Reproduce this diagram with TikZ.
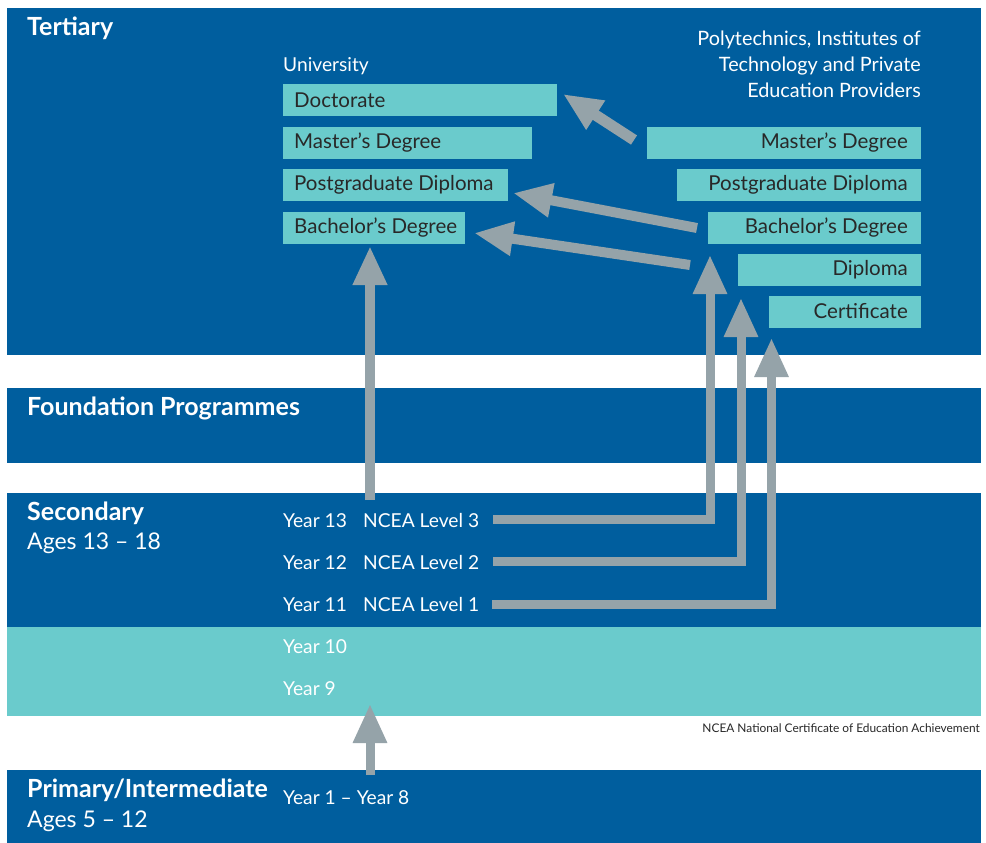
\documentclass[tikz,border=0pt]{standalone}
\usepackage{fontspec}
\setmainfont{Lato}
\usetikzlibrary{arrows.meta}
\definecolor{dblue}{RGB}{0,94,158}
\definecolor{lteal}{RGB}{106,203,204}
\definecolor{garr}{RGB}{149,163,169}
\definecolor{txt}{RGB}{40,40,40}
\newcommand{\lbox}[2]{\makebox[#1][l]{#2}}
\newcommand{\rbox}[2]{\makebox[#1][r]{#2}}
\begin{document}
\begin{tikzpicture}[x=1pt,y=-1pt,
  band/.style={fill=#1, draw=none, anchor=north west, inner sep=0pt},
  ubox/.style={fill=lteal, anchor=west, minimum height=32pt, inner xsep=11pt, inner ysep=0pt, text=txt, font=\fontsize{20.5}{21}\selectfont},
  pbox/.style={fill=lteal, anchor=east, minimum height=32pt, inner xsep=13pt, inner ysep=0pt, text=txt, font=\fontsize{20.5}{21}\selectfont},
  head/.style={anchor=west, text=white, inner sep=0pt, font=\fontsize{25}{26}\selectfont\bfseries},
  sub/.style={anchor=west, text=white, inner sep=0pt, font=\fontsize{23}{24}\selectfont},
  lbl/.style={anchor=west, text=white, inner sep=0pt, font=\fontsize{19.2}{20}\selectfont},
  garrow/.style={draw=garr, line width=#1, line cap=butt, line join=miter, -{Triangle[length=39pt,width=32pt]}},
]
\useasboundingbox (0,0) rectangle (986,843);
\fill[white] (0,0) rectangle (986,843);
% bands
\node[band=dblue, minimum width=974pt, minimum height=347pt] (tert) at (7,8) {};
\node[band=dblue, minimum width=974pt, minimum height=75pt] (found) at (7,388) {};
\node[band=dblue, minimum width=974pt, minimum height=135pt] (sec) at (7,493) {};
\node[band=lteal, minimum width=974pt, minimum height=89pt] (junior) at (7,627) {};
\node[band=dblue, minimum width=974pt, minimum height=73pt] (prim) at (7,770) {};
% headings
\node[head] (hT) at (27,28) {Tertiary};
\node[head] (hF) at (27,408) {Foundation Programmes};
\node[head] (hS) at (27,513) {Secondary};
\node[sub] (aS) at (27,543) {Ages 13 – 18};
\node[head] (hP) at (27,790) {Primary/Intermediate};
\node[sub] (aP) at (27,821) {Ages 5 – 12};
% university
\node[lbl] (uni) at (283,66) {University};
\node[ubox] (udoc) at (283,100) {\lbox{252pt}{Doctorate}};
\node[ubox] (umas) at (283,142.5) {\lbox{227pt}{Master’s Degree}};
\node[ubox] (upg) at (283,185) {\lbox{203pt}{Postgraduate Diploma}};
\node[ubox] (ubach) at (283,227.5) {\lbox{160pt}{Bachelor’s Degree}};
% polytechnics
\node[text=white, anchor=north east, inner sep=0pt, align=right, font=\fontsize{19.8}{26}\selectfont] (poly) at (921,31) {Polytechnics, Institutes of\\Technology and Private\\Education Providers};
\node[pbox] (pmas) at (921,142.5) {\rbox{248pt}{Master’s Degree}};
\node[pbox] (ppg) at (921,185) {\rbox{218pt}{Postgraduate Diploma}};
\node[pbox] (pbach) at (921,227.5) {\rbox{187pt}{Bachelor’s Degree}};
\node[pbox] (pdip) at (921,270) {\rbox{157pt}{Diploma}};
\node[pbox] (pcert) at (921,311.5) {\rbox{126pt}{Certificate}};
% secondary
\node[lbl] (y13) at (283,521) {Year 13};
\node[lbl] (n3) at (363,521) {NCEA Level 3};
\node[lbl] (y12) at (283,563) {Year 12};
\node[lbl] (n2) at (363,563) {NCEA Level 2};
\node[lbl] (y11) at (283,605) {Year 11};
\node[lbl] (n1) at (363,605) {NCEA Level 1};
\node[lbl] (y10) at (283,647) {Year 10};
\node[lbl] (y9) at (283,689) {Year 9};
\node[lbl] (y18) at (283,798) {Year 1 – Year 8};
\node[anchor=east, inner sep=0pt, text=txt, font=\fontsize{11.9}{13}\selectfont] (note) at (980,728) {NCEA National Certificate of Education Achievement};
% arrow coordinates
\coordinate (a1s) at (634,140);
\coordinate (a1e) at (563,94);
\coordinate (a2s) at (697,228);
\coordinate (a2e) at (513,193);
\coordinate (a3s) at (690,265);
\coordinate (a3e) at (474,233);
\coordinate (a4s) at (370,500);
\coordinate (a4e) at (370,246);
\coordinate (e3s) at (493,519);
\coordinate (e3e) at (710,255);
\coordinate (e2s) at (493,561);
\coordinate (e2e) at (741,298);
\coordinate (e1s) at (492,604.5);
\coordinate (e1e) at (771.5,338);
\coordinate (b1s) at (370,775);
\coordinate (b1e) at (370,704);
% arrows
\draw[garrow=11pt] (a1s) -- (a1e);
\draw[garrow=10pt] (a2s) -- (a2e);
\draw[garrow=10pt] (a3s) -- (a3e);
\draw[garrow=10pt] (a4s) -- (a4e);
\draw[garrow=9pt] (e3s) -| (e3e);
\draw[garrow=9pt] (e2s) -| (e2e);
\draw[garrow=9pt] (e1s) -| (e1e);
\draw[garrow=9pt] (b1s) -- (b1e);
\end{tikzpicture}
\end{document}
